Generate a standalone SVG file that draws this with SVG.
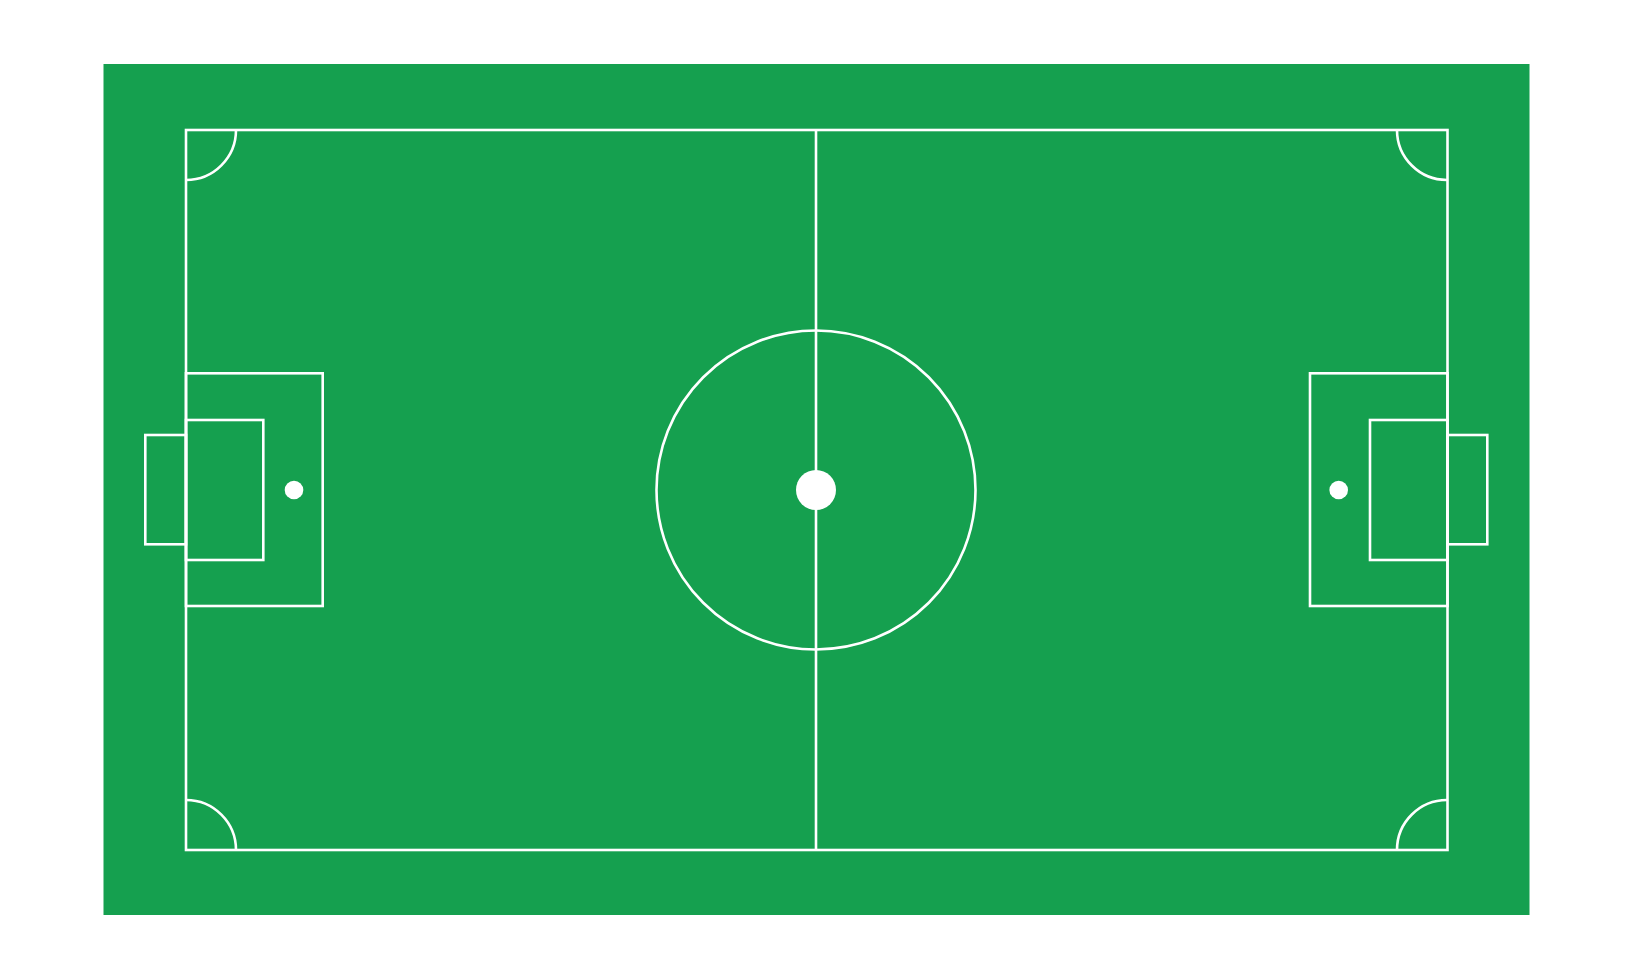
<svg xmlns="http://www.w3.org/2000/svg" width="1633" height="980" viewBox="0 0 1633 980">
<style>
.ln{fill:none;stroke:#ffffff;stroke-width:2.6}
.dot{fill:#ffffff}
</style>
<rect width="1633" height="980" fill="#ffffff"/>
<rect id="pitch" x="103.5" y="64" width="1426" height="851" fill="#15a04f"/>
<g id="lines">
<rect class="ln" x="186" y="130" width="1261.5" height="720"/>
<line class="ln" x1="816" y1="130" x2="816" y2="850"/>
<circle class="ln" cx="816" cy="490" r="159.5"/>
<circle class="dot" cx="816" cy="490" r="20"/>
<path class="ln" d="M236,130 A50,50 0 0 1 186,180"/>
<path class="ln" d="M1397,130 A50,50 0 0 0 1447.5,180"/>
<path class="ln" d="M186,800 A50,50 0 0 1 236,850"/>
<path class="ln" d="M1397,850 A50,50 0 0 1 1447.5,800"/>
</g>
<g id="left-goal">
<rect class="ln" x="186" y="373.3" width="136.7" height="232.7"/>
<rect class="ln" x="186" y="420" width="77.3" height="140"/>
<rect class="ln" x="145.3" y="435" width="40.7" height="109.3"/>
<circle class="dot" cx="294" cy="490" r="9.3"/>
</g>
<g id="right-goal">
<rect class="ln" x="1310" y="373.3" width="137.5" height="232.7"/>
<rect class="ln" x="1370" y="420" width="77.5" height="140"/>
<rect class="ln" x="1447.5" y="435" width="39.8" height="109.3"/>
<circle class="dot" cx="1338.7" cy="490" r="9.3"/>
</g>
</svg>
